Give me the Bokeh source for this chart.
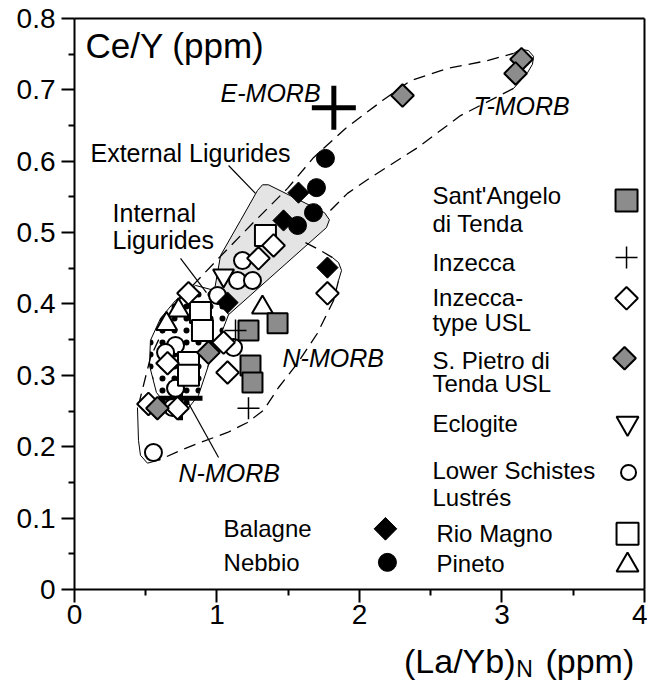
import numpy as np
from bokeh.plotting import figure
from bokeh.models import FixedTicker, CustomJSTickFormatter, Label, Range1d
from bokeh.embed import file_html
from bokeh.resources import INLINE

FONT = "Liberation Sans"

# ---------------- axis ticks ----------------
x_ticks = [0, 1, 2, 3, 4]
x_minor = [0.5, 1.5, 2.5, 3.5]
y_ticks = [0, 0.1, 0.2, 0.3, 0.4, 0.5, 0.6, 0.7, 0.8]
y_minor = [0.05, 0.15, 0.25, 0.35, 0.45, 0.55, 0.65, 0.75]
x_min, x_max = 0, 4
y_min, y_max = 0, 0.8

# ---------------- sample data (La/Yb)N , Ce/Y ----------------
nebbio_x = [1.761, 1.698, 1.677, 1.565]
nebbio_y = [0.604, 0.563, 0.528, 0.510]

balagne_x = [1.572, 1.467, 1.775, 1.074]
balagne_y = [0.556, 0.517, 0.451, 0.402]

santangelo_x = [1.221, 1.425, 1.235, 1.249]
santangelo_y = [0.363, 0.373, 0.314, 0.290]

spietro_x = [3.137, 3.095, 2.302, 0.940, 0.582]
spietro_y = [0.743, 0.723, 0.692, 0.332, 0.254]

inzecca_x = [1.221, 1.130]
inzecca_y = [0.254, 0.363]

inztype_x = [1.397, 1.291, 0.800, 1.775, 1.046, 0.653, 1.074, 0.519, 0.723]
inztype_y = [0.482, 0.464, 0.415, 0.415, 0.346, 0.317, 0.304, 0.260, 0.254]

riomagno_x = [1.340, 0.884, 0.898, 0.800, 0.800]
riomagno_y = [0.496, 0.388, 0.363, 0.318, 0.300]

pineto_x = [1.319, 0.730, 0.646]
pineto_y = [0.395, 0.391, 0.372]

eclogite_x = [1.046]
eclogite_y = [0.440]

lsl_x = [1.179, 1.144, 1.249, 1.004, 0.709, 0.639, 1.116, 0.709, 0.688, 0.554]
lsl_y = [0.461, 0.433, 0.433, 0.412, 0.342, 0.332, 0.339, 0.282, 0.255, 0.192]

# reference compositions
emorb_x, emorb_y = [1.82], [0.675]
nmorb_x, nmorb_y = [0.744], [0.268]

# ---------------- fields ----------------
ext_field_x = [1.284, 1.319, 1.361, 1.754, 1.789, 1.768, 1.081, 0.982, 1.025, 1.165]
ext_field_y = [0.559, 0.567, 0.567, 0.528, 0.518, 0.507, 0.385, 0.419, 0.468, 0.517]

int_field_x = [0.533, 0.604, 0.709, 0.849, 0.982, 1.081, 1.011, 0.940, 0.870, 0.786, 0.674, 0.575, 0.526]
int_field_y = [0.349, 0.380, 0.405, 0.426, 0.419, 0.385, 0.349, 0.314, 0.272, 0.251, 0.251, 0.276, 0.314]

# envelope (dashed parts)
env_dash_xs = [
    [0.449, 0.533, 0.653, 0.730, 1.011, 1.235, 1.495, 1.677, 1.902, 2.161, 2.358, 2.618, 2.898, 3.081],
    [3.081, 2.709, 2.407, 2.077, 1.916, 1.796],
    [1.621, 1.726, 1.811],
    [1.853, 1.818, 1.705, 1.565, 1.432, 1.326, 1.214, 1.074, 0.884, 0.744, 0.589],
]
env_dash_ys = [
    [0.258, 0.325, 0.377, 0.405, 0.464, 0.510, 0.562, 0.605, 0.646, 0.685, 0.713, 0.730, 0.741, 0.751],
    [0.702, 0.664, 0.619, 0.577, 0.555, 0.531],
    [0.486, 0.475, 0.465],
    [0.433, 0.405, 0.359, 0.317, 0.283, 0.251, 0.234, 0.220, 0.206, 0.195, 0.181],
]
# envelope (solid parts)
env_solid_xs = [
    [3.081, 3.130, 3.186, 3.221, 3.214, 3.179, 3.130, 3.081],
    [1.811, 1.853, 1.874, 1.853],
    [0.589, 0.512, 0.463, 0.449, 0.442],
]
env_solid_ys = [
    [0.751, 0.757, 0.755, 0.747, 0.736, 0.724, 0.713, 0.702],
    [0.465, 0.458, 0.447, 0.433],
    [0.181, 0.177, 0.188, 0.209, 0.255],
]

# leader lines
lead_xs = [[1.081, 1.270], [0.744, 0.926], [0.800, 1.011]]
lead_ys = [[0.594, 0.555], [0.464, 0.416], [0.261, 0.185]]

# ---------------- in-plot legend ----------------
leg_text = ["Sant'Angelo", "di Tenda", "Inzecca", "Inzecca-", "type USL",
            "S. Pietro di", "Tenda USL", "Eclogite", "Lower Schistes", "Lustrés",
            "Rio Magno", "Pineto", "Balagne", "Nebbio"]
leg_tx = [2.512, 2.512, 2.512, 2.512, 2.512, 2.512, 2.512, 2.512, 2.512, 2.512,
          2.540, 2.540, 1.046, 1.046]
leg_ty = [0.552, 0.513, 0.458, 0.409, 0.374, 0.321, 0.289, 0.233, 0.167, 0.129,
          0.078, 0.036, 0.085, 0.038]

legm_santangelo = (3.874, 0.545)
legm_inzecca = (3.874, 0.465)
legm_inztype = (3.874, 0.408)
legm_spietro = (3.860, 0.324)
legm_eclogite = (3.881, 0.233)
legm_lsl = (3.888, 0.164)
legm_riomagno = (3.881, 0.078)
legm_pineto = (3.881, 0.034)
legm_balagne = (2.182, 0.085)
legm_nebbio = (2.196, 0.038)

# annotation labels
ann_text = ["E-MORB", "T-MORB", "N-MORB", "N-MORB"]
ann_x = [1.025, 2.80, 1.46, 0.73]
ann_y = [0.695, 0.678, 0.324, 0.163]
field_text = ["External Ligurides", "Internal", "Ligurides"]
field_x = [0.112, 0.267, 0.267]
field_y = [0.611, 0.527, 0.489]

GRAY = "#8c8c8c"

# the frame covers the whole canvas; both axes are pinned at 0 inside it
p = figure(frame_width=647, frame_height=682,
           x_range=Range1d(-0.5193, 4.0211), y_range=Range1d(-0.1303, 0.8252),
           output_backend="svg", toolbar_location=None,
           min_border_left=0, min_border_right=0, min_border_top=0, min_border_bottom=0)
p.grid.visible = False
p.outline_line_color = None
p.background_fill_color = "white"
p.border_fill_color = "white"

p.xaxis.fixed_location = 0
p.yaxis.fixed_location = 0
p.xaxis.bounds = (x_min, x_max)
p.yaxis.bounds = (y_min, y_max)
p.xaxis.ticker = FixedTicker(ticks=x_ticks, minor_ticks=x_minor)
p.yaxis.ticker = FixedTicker(ticks=y_ticks, minor_ticks=y_minor)
p.xaxis.formatter = CustomJSTickFormatter(code="return tick.toFixed(0);")
p.yaxis.formatter = CustomJSTickFormatter(code="return Math.abs(tick) < 1e-9 ? '0' : tick.toFixed(1);")
for ax in (p.xaxis[0], p.yaxis[0]):
    ax.axis_line_width = 2
    ax.axis_line_color = "black"
    ax.major_tick_line_width = 2
    ax.minor_tick_line_width = 2
    ax.major_tick_line_color = "black"
    ax.minor_tick_line_color = "black"
    ax.major_tick_out = 13
    ax.major_tick_in = 0
    ax.minor_tick_out = 6
    ax.minor_tick_in = 0
    ax.major_label_text_font = FONT
    ax.major_label_text_font_size = "28px"
    ax.major_label_text_color = "black"
p.yaxis.major_label_standoff = 6
p.xaxis.major_label_standoff = 3

# frame top and right borders
p.line([x_min, x_max], [y_max, y_max], line_color="black", line_width=2)
p.line([x_max, x_max], [y_min, y_max], line_color="black", line_width=2)

# fields
p.patch(ext_field_x, ext_field_y, fill_color="#e4e4e4", line_color="black", line_width=1)
p.patch(int_field_x, int_field_y, fill_color="white", line_color="black", line_width=1,
        hatch_pattern="dot", hatch_color="black", hatch_scale=12, hatch_weight=1.0)

p.multi_line(env_dash_xs, env_dash_ys, line_color="black", line_width=1.3, line_dash="12 7")
p.multi_line(env_solid_xs, env_solid_ys, line_color="black", line_width=1)
p.multi_line(lead_xs, lead_ys, line_color="black", line_width=1.2)

# points
p.scatter(nmorb_x, nmorb_y, marker="cross", size=44, line_color="black", line_width=5)
p.scatter(lsl_x, lsl_y, marker="circle", size=17, fill_color="white", line_color="black", line_width=2)
p.scatter(riomagno_x, riomagno_y, marker="square", size=21, fill_color="white", line_color="black", line_width=2)
p.scatter(pineto_x, pineto_y, marker="triangle", size=21, fill_color="white", line_color="black", line_width=2)
p.scatter(eclogite_x, eclogite_y, marker="inverted_triangle", size=21, fill_color="white", line_color="black", line_width=2)
p.scatter(inztype_x, inztype_y, marker="square", angle=np.pi / 4, size=16, fill_color="white", line_color="black", line_width=2)
p.scatter(santangelo_x, santangelo_y, marker="square", size=20, fill_color=GRAY, line_color="black", line_width=2)
p.scatter(spietro_x, spietro_y, marker="square", angle=np.pi / 4, size=16, fill_color=GRAY, line_color="black", line_width=2)
p.scatter(balagne_x, balagne_y, marker="square", angle=np.pi / 4, size=15, fill_color="black", line_color="black", line_width=1)
p.scatter(nebbio_x, nebbio_y, marker="circle", size=18, fill_color="black", line_color="black", line_width=1)
p.scatter(inzecca_x, inzecca_y, marker="cross", size=22, line_color="black", line_width=1.5)
p.scatter(emorb_x, emorb_y, marker="cross", size=44, line_color="black", line_width=5)

# legend markers
p.scatter([legm_santangelo[0]], [legm_santangelo[1]], marker="square", size=22, fill_color=GRAY, line_color="black", line_width=2)
p.scatter([legm_inzecca[0]], [legm_inzecca[1]], marker="cross", size=22, line_color="black", line_width=1.5)
p.scatter([legm_inztype[0]], [legm_inztype[1]], marker="square", angle=np.pi / 4, size=16, fill_color="white", line_color="black", line_width=2)
p.scatter([legm_spietro[0]], [legm_spietro[1]], marker="square", angle=np.pi / 4, size=16, fill_color=GRAY, line_color="black", line_width=2)
p.scatter([legm_eclogite[0]], [legm_eclogite[1]], marker="inverted_triangle", size=22, fill_color="white", line_color="black", line_width=2)
p.scatter([legm_lsl[0]], [legm_lsl[1]], marker="circle", size=15, fill_color="white", line_color="black", line_width=2)
p.scatter([legm_riomagno[0]], [legm_riomagno[1]], marker="square", size=22, fill_color="white", line_color="black", line_width=2)
p.scatter([legm_pineto[0]], [legm_pineto[1]], marker="triangle", size=22, fill_color="white", line_color="black", line_width=2)
p.scatter([legm_balagne[0]], [legm_balagne[1]], marker="square", angle=np.pi / 4, size=16, fill_color="black", line_color="black", line_width=1)
p.scatter([legm_nebbio[0]], [legm_nebbio[1]], marker="circle", size=18, fill_color="black", line_color="black", line_width=1)

# texts
for t, x, y in zip(leg_text, leg_tx, leg_ty):
    p.add_layout(Label(x=x, y=y, text=t, text_font=FONT, text_font_size="24px",
                       text_baseline="middle", text_align="left", text_color="black"))
for t, x, y in zip(ann_text, ann_x, ann_y):
    p.add_layout(Label(x=x, y=y, text=t, text_font=FONT, text_font_size="25px", text_font_style="italic",
                       text_baseline="middle", text_align="left", text_color="black"))
for t, x, y in zip(field_text, field_x, field_y):
    p.add_layout(Label(x=x, y=y, text=t, text_font=FONT, text_font_size="25px",
                       text_baseline="middle", text_align="left", text_color="black"))

p.add_layout(Label(x=0.077, y=0.762, text="Ce/Y (ppm)", text_font=FONT, text_font_size="35px",
                   text_baseline="middle", text_align="left", text_color="black"))

# x axis title with subscript
p.add_layout(Label(x=3.095, y=-0.0995, text="(La/Yb)", text_font=FONT, text_font_size="34px",
                   text_baseline="middle", text_align="right", text_color="black"))
p.add_layout(Label(x=3.100, y=-0.112, text="N", text_font=FONT, text_font_size="23px",
                   text_baseline="middle", text_align="left", text_color="black"))
p.add_layout(Label(x=3.305, y=-0.0995, text="(ppm)", text_font=FONT, text_font_size="34px",
                   text_baseline="middle", text_align="left", text_color="black"))

open("out.html", "w").write(file_html(p, INLINE))
